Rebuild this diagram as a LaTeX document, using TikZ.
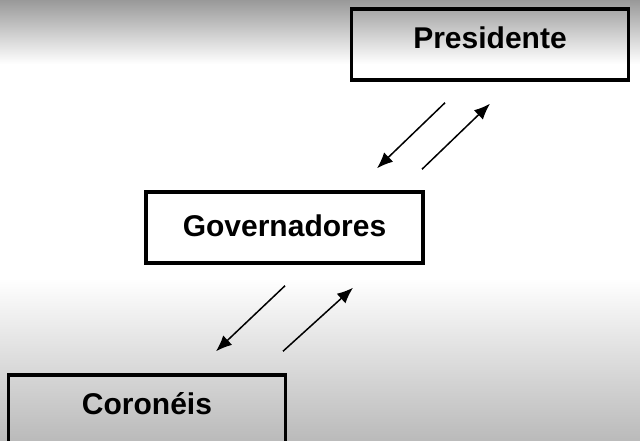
\documentclass[tikz,border=0pt]{standalone}
\usepackage{fontspec}
\setmainfont{Liberation Sans}
\usetikzlibrary{arrows.meta}

\begin{document}
\begin{tikzpicture}[x=1pt, y=-1pt,
  cargo/.style={draw, line width=3.5pt, minimum width=277pt, minimum height=71pt, inner sep=0pt, font=\fontsize{30}{36}\selectfont\bfseries},
  seta/.style={line width=1.5pt, -{Latex[length=16pt, width=13pt]}}, ]

% Background with grey fades at top and bottom.
\useasboundingbox (0, 0) rectangle (640, 441);
\fill[white] (0, 0) rectangle (640, 441);
\shade[top color=black!40, bottom color=white] (0, 0) rectangle (640, 64);
\shade[top color=white, bottom color=black!27] (0, 278) rectangle (640, 441);

% Draw the three boxes.
\node[cargo, text depth=13pt] (pres) at (490, 44.5) {Presidente};
\node[cargo, text depth=4pt] (gov) at (284.5, 227.5) {Governadores};
\node[cargo, text depth=14pt] (cor) at (147, 410.5) {Coronéis};

% Arrows between Presidente and Governadores.
\draw[seta] ([xshift=-45pt, yshift=-21pt]pres.south) -- ([xshift=92.5pt, yshift=22pt]gov.north);
\draw[seta] ([xshift=137.5pt, yshift=21pt]gov.north) -- ([yshift=-22pt]pres.south);

% Arrows between Governadores and Coronéis.
\draw[seta] ([xshift=0.5pt, yshift=-21pt]gov.south) -- ([xshift=69pt, yshift=22pt]cor.north);
\draw[seta] ([xshift=136pt, yshift=22pt]cor.north) -- ([xshift=68.5pt, yshift=-23pt]gov.south);

\end{tikzpicture}
\end{document}
